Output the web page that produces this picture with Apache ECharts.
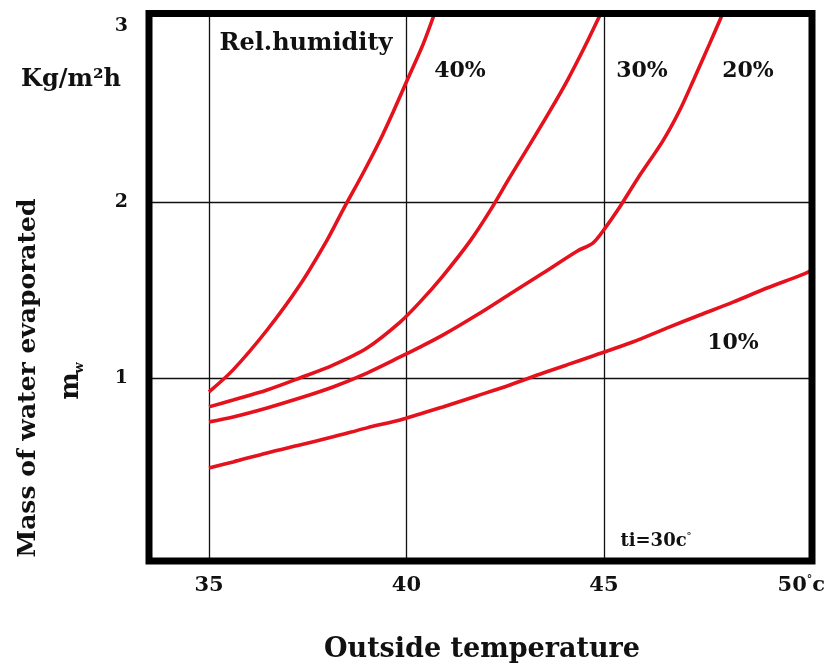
<!DOCTYPE html>
<html>
<head>
<meta charset="utf-8">
<script src="https://cdn.jsdelivr.net/npm/echarts@6/dist/echarts.min.js"></script>
<style>html,body{margin:0;padding:0;background:#fff}#c{width:833px;height:668px}</style>
</head>
<body>
<div id="c"></div>
<script>
// Outside temperature (°C) and mass of water evaporated (kg/m²h), per relative humidity
const rh40Temp = [35.00, 35.61, 36.47, 37.30, 37.99, 38.39, 38.90, 39.33, 39.66, 40.04, 40.42, 40.71];
const rh40Mass = [0.924, 1.049, 1.275, 1.530, 1.785, 1.955, 2.164, 2.351, 2.510, 2.703, 2.895, 3.07];

const rh30Temp = [35.00, 35.61, 36.47, 37.30, 38.14, 39.00, 39.84, 40.34, 40.92, 41.61, 42.11, 42.62, 43.13, 43.63, 44.09, 44.52, 44.92];
const rh30Mass = [0.839, 0.878, 0.935, 1.003, 1.076, 1.173, 1.320, 1.433, 1.581, 1.779, 1.949, 2.142, 2.329, 2.516, 2.697, 2.884, 3.07];

const rh20Temp = [35.00, 35.61, 36.47, 37.30, 38.14, 39.00, 39.84, 40.34, 40.92, 41.78, 42.62, 43.46, 44.32, 44.72, 45.03, 45.35, 45.86, 46.49, 46.92, 47.29, 47.67, 48.01];
const rh20Mass = [0.754, 0.782, 0.833, 0.889, 0.952, 1.031, 1.122, 1.178, 1.246, 1.360, 1.479, 1.598, 1.722, 1.768, 1.853, 1.955, 2.136, 2.346, 2.521, 2.703, 2.895, 3.07];

const rh10Temp = [35.00, 35.61, 36.47, 37.30, 38.14, 39.00, 39.84, 40.34, 40.92, 41.78, 42.62, 43.46, 44.06, 44.72, 45.73, 46.59, 47.43, 48.27, 49.13, 49.99, 50.27];
const rh10Mass = [0.493, 0.527, 0.578, 0.623, 0.669, 0.720, 0.765, 0.799, 0.838, 0.901, 0.963, 1.031, 1.077, 1.128, 1.207, 1.286, 1.360, 1.433, 1.513, 1.586, 1.615];

const seriesNames = ['40%', '30%', '20%', '10%'];
const xTickValues = [35, 40, 45, 50];
const xGridValues = [35, 40, 45];
const yTickValues = [1, 2, 3];
const yGridValues = [1, 2];

const zip = (a, b) => a.map((v, i) => [v, b[i]]);
const serif = '"DejaVu Serif", "Liberation Serif", serif';
const RED = '#e5121d';

const chart = echarts.init(document.getElementById('c'), null, {renderer: 'canvas'});
const G = {left: 149, top: 13.5, right: 21, bottom: 107};

const lineSeries = [
  [rh40Temp, rh40Mass], [rh30Temp, rh30Mass], [rh20Temp, rh20Mass], [rh10Temp, rh10Mass]
].map((p, i) => ({
  name: seriesNames[i],
  type: 'line',
  data: zip(p[0], p[1]),
  showSymbol: false,
  smooth: 0.3,
  clip: true,
  lineStyle: {color: RED, width: 3.6},
  itemStyle: {color: RED},
  z: 3
}));

function txt(text, x, y, size, extra) {
  return Object.assign({
    type: 'text', x: x, y: y, z: 200,
    style: Object.assign({
      text: text, fill: '#111',
      font: 'bold ' + size + 'px ' + serif,
      align: 'center', verticalAlign: 'middle'
    }, (extra && extra.style) || {})
  }, extra && extra.el || {});
}

chart.setOption({
  animation: false,
  backgroundColor: '#fff',
  grid: Object.assign({show: false, containLabel: false}, G),
  xAxis: {
    type: 'value', min: 33.48, max: 50.27,
    axisLine: {show: false},
    axisTick: {show: false, customValues: xGridValues},
    splitLine: {show: true, lineStyle: {color: '#111', width: 1.3}},
    axisLabel: {
      customValues: xTickValues, margin: 14,
      color: '#111', fontFamily: serif, fontWeight: 'bold', fontSize: 21,
      formatter: v => v === 50 ? '50{d|°}c' : String(v),
      rich: {d: {fontSize: 11, fontWeight: 'bold', fontFamily: serif, color: '#111', verticalAlign: 'top', padding: [0, 0, 10, 0]}}
    }
  },
  yAxis: {
    type: 'value', min: -0.035, max: 3.07,
    axisLine: {show: false},
    axisTick: {show: false, customValues: yGridValues},
    splitLine: {show: true, lineStyle: {color: '#111', width: 1.3}},
    axisLabel: {
      customValues: yTickValues, margin: 21,
      color: '#111', fontFamily: serif, fontWeight: 'bold', fontSize: 19
    }
  },
  series: lineSeries,
  graphic: [
    {type: 'rect', z: 150, silent: true,
     shape: {x: 149, y: 13.5, width: 833 - 149 - 21, height: 668 - 13.5 - 107},
     style: {fill: 'none', stroke: '#000', lineWidth: 7}},
    txt('Rel.humidity', 306, 44, 24),
    txt('40%', 460, 71, 22),
    txt('30%', 642, 71, 22),
    txt('20%', 748, 71, 22),
    txt('10%', 733, 343, 22),
    txt('ti=30c{d|°}', 656, 541, 18, {style: {rich: {d: {fontSize: 10, fontWeight: 'bold', fontFamily: serif, fill: '#111', padding: [0, 0, 10, 0]}}}}),
    txt('Kg/m²h', 71, 80, 24),
    txt('Outside temperature', 482, 650, 27),
    txt('Mass of water evaporated', 28, 378, 25, {el: {rotation: Math.PI / 2}}),
    txt('m', 71, 386, 26, {el: {rotation: Math.PI / 2}}),
    txt('w', 80, 368, 13, {el: {rotation: Math.PI / 2}})
  ]
});
</script>
</body>
</html>
